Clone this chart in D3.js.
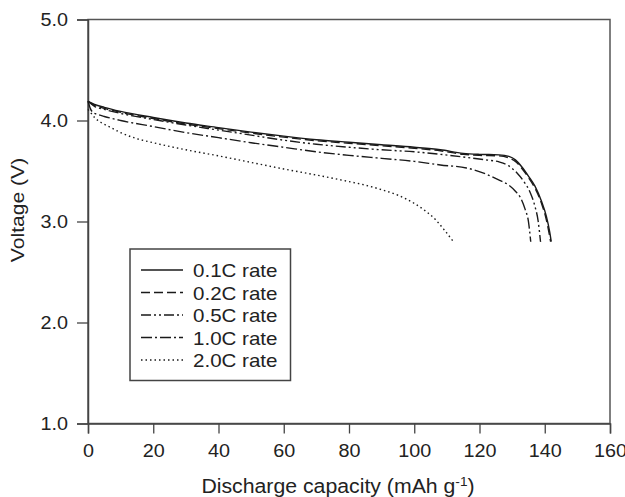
<!DOCTYPE html>
<html>
<head>
<meta charset="utf-8">
<script src="https://cdn.jsdelivr.net/npm/d3@7"></script>
<style>
    body { margin: 0; background: #fff; }
    .mytext { font-family: "Liberation Sans", Arial, sans-serif; fill: #222; }
</style>
</head>
<body>
<div id="chart-area"></div>
<script>
// discharge capacity (mAh/g) and voltage (V)
var rateNames = ["0.1C rate", "0.2C rate", "0.5C rate", "1.0C rate", "2.0C rate"];

var cap01 = [0, 2, 5, 10, 20, 30, 40, 50, 60, 70, 80, 90, 100, 108, 115, 120, 126, 129, 131, 133, 135, 137, 139, 140.5, 141.5, 142];
var volt01 = [4.19, 4.16, 4.13, 4.09, 4.03, 3.975, 3.93, 3.885, 3.845, 3.81, 3.785, 3.76, 3.735, 3.71, 3.675, 3.665, 3.66, 3.645, 3.61, 3.54, 3.45, 3.35, 3.2, 3.05, 2.9, 2.8];

var cap02 = [0, 2, 5, 10, 20, 30, 40, 50, 60, 70, 80, 90, 100, 108, 115, 120, 126, 129, 131, 133, 135, 137, 139, 140.4, 141.3, 141.8];
var volt02 = [4.19, 4.15, 4.12, 4.08, 4.02, 3.965, 3.92, 3.875, 3.835, 3.8, 3.775, 3.75, 3.725, 3.7, 3.665, 3.655, 3.65, 3.63, 3.595, 3.525, 3.435, 3.33, 3.18, 3.03, 2.89, 2.8];

var cap05 = [0, 2, 5, 10, 20, 30, 40, 50, 60, 70, 80, 90, 100, 108, 116, 122, 126, 129, 131.5, 133.5, 135.5, 137, 138, 138.7];
var volt05 = [4.19, 4.14, 4.11, 4.07, 4.01, 3.955, 3.905, 3.855, 3.805, 3.765, 3.735, 3.71, 3.69, 3.665, 3.635, 3.61, 3.59, 3.55, 3.48, 3.4, 3.29, 3.15, 3.0, 2.8];

var cap10 = [0, 0.7, 1.5, 3, 5, 10, 20, 30, 40, 50, 60, 70, 80, 90, 100, 108, 116, 122, 126, 129, 131, 132.5, 134, 135, 135.7];
var volt10 = [4.19, 4.12, 4.08, 4.06, 4.04, 4.0, 3.94, 3.88, 3.83, 3.78, 3.735, 3.69, 3.655, 3.625, 3.595, 3.56, 3.53, 3.47, 3.41, 3.36, 3.3, 3.24, 3.12, 3.0, 2.8];

var cap20 = [0, 1, 2, 4, 7, 10, 15, 20, 30, 40, 50, 60, 70, 80, 85, 90, 95, 100, 103, 106, 109, 112];
var volt20 = [4.11, 4.07, 4.03, 3.98, 3.93, 3.88, 3.82, 3.78, 3.71, 3.65, 3.585, 3.52, 3.46, 3.395, 3.36, 3.315, 3.26, 3.18, 3.115, 3.035, 2.925, 2.8];

var xTicks = [0, 20, 40, 60, 80, 100, 120, 140, 160];
var yTicks = [1.0, 2.0, 3.0, 4.0, 5.0];

var dashes = [null, "9,4", "10,3,2,3,2,3", "11,3,2,3", "1.5,3"];

var allCaps = [cap01, cap02, cap05, cap10, cap20];
var allVolts = [volt01, volt02, volt05, volt10, volt20];

var series = rateNames.map(function(name, i) {
    return {
        name: name,
        dash: dashes[i],
        values: allCaps[i].map(function(c, j) { return { cap: c, v: allVolts[i][j] }; })
    };
});

// the original lettering is a bit wider than Arial, so stretch it a little
function widen(sel, k) {
    sel.each(function() {
        var w = this.getComputedTextLength();
        d3.select(this).attr("textLength", w * k).attr("lengthAdjust", "spacingAndGlyphs");
    });
}

var margin = { top: 19.5, right: 15, bottom: 73.5, left: 88 };
var width = 625 - margin.left - margin.right,
    height = 497 - margin.top - margin.bottom;

var svg = d3.select("#chart-area").append("svg")
    .attr("width", 625)
    .attr("height", 497)
    .append("g")
    .attr("transform", "translate(" + margin.left + "," + margin.top + ")");

var x = d3.scaleLinear().domain([0, 160]).range([0, width]);
var y = d3.scaleLinear().domain([1, 5]).range([height, 0]);

// frame
svg.append("rect")
    .attr("width", width)
    .attr("height", height)
    .attr("fill", "none")
    .attr("stroke", "#555")
    .attr("stroke-width", 1.5);

var xAxis = d3.axisBottom(x).tickValues(xTicks).tickSize(10).tickPadding(11).tickFormat(d3.format("d"));
var yAxis = d3.axisLeft(y).tickValues(yTicks).tickSize(11).tickPadding(9).tickFormat(d3.format(".1f"));

var gx = svg.append("g")
    .attr("transform", "translate(0," + height + ")")
    .call(xAxis);
var gy = svg.append("g").call(yAxis);

[gx, gy].forEach(function(g) {
    g.select(".domain").attr("stroke", "#444").attr("stroke-width", 1.5);
    g.selectAll(".tick line").attr("stroke", "#444").attr("stroke-width", 1.3);
    g.selectAll(".tick text")
        .attr("class", "mytext")
        .style("font-size", "17.5px")
        .attr("fill", "#222")
        .call(widen, 1.13);
});

var line = d3.line()
    .x(function(d) { return x(d.cap); })
    .y(function(d) { return y(d.v); })
    .curve(d3.curveMonotoneX);

svg.selectAll(".rate-line")
    .data(series)
    .enter().append("path")
    .attr("class", "rate-line")
    .attr("d", function(d) { return line(d.values); })
    .attr("fill", "none")
    .attr("stroke", "#1a1a1a")
    .attr("stroke-width", 1.4)
    .attr("stroke-dasharray", function(d) { return d.dash; });

// axis titles
var xTitle = svg.append("text")
    .attr("class", "mytext")
    .attr("x", width / 2 - 11)
    .attr("y", height + 69)
    .attr("text-anchor", "middle")
    .style("font-size", "19.5px");
xTitle.append("tspan").text("Discharge capacity (mAh g");
xTitle.append("tspan").attr("dy", -7).style("font-size", "12.5px").text("-1");
xTitle.append("tspan").attr("dy", 7).text(")");
xTitle.call(widen, 1.09);

svg.append("text")
    .attr("class", "mytext")
    .attr("transform", "translate(" + (-64) + "," + (210 - margin.top) + ")rotate(-90)")
    .attr("text-anchor", "middle")
    .style("font-size", "19px")
    .text("Voltage (V)")
    .call(widen, 1.11);

// legend
var legend = svg.append("g")
    .attr("transform", "translate(" + 42 + "," + 229.5 + ")");

legend.append("rect")
    .attr("width", 160.5)
    .attr("height", 131.5)
    .attr("fill", "#fff")
    .attr("stroke", "#444")
    .attr("stroke-width", 1.5);

var item = legend.selectAll(".legend-item")
    .data(series)
    .enter().append("g")
    .attr("class", "legend-item")
    .attr("transform", function(d, i) {
        return "translate(0," + (21 + i * 22.5) + ")";
    });

item.append("line")
    .attr("x1", 11)
    .attr("x2", 53)
    .attr("stroke", "#1a1a1a")
    .attr("stroke-width", 1.3)
    .attr("stroke-dasharray", function(d) { return d.dash; });

item.append("text")
    .attr("class", "mytext")
    .attr("x", 63)
    .attr("y", 7)
    .style("font-size", "18.5px")
    .text(function(d) { return d.name; })
    .call(widen, 1.11);
</script>
</body>
</html>
